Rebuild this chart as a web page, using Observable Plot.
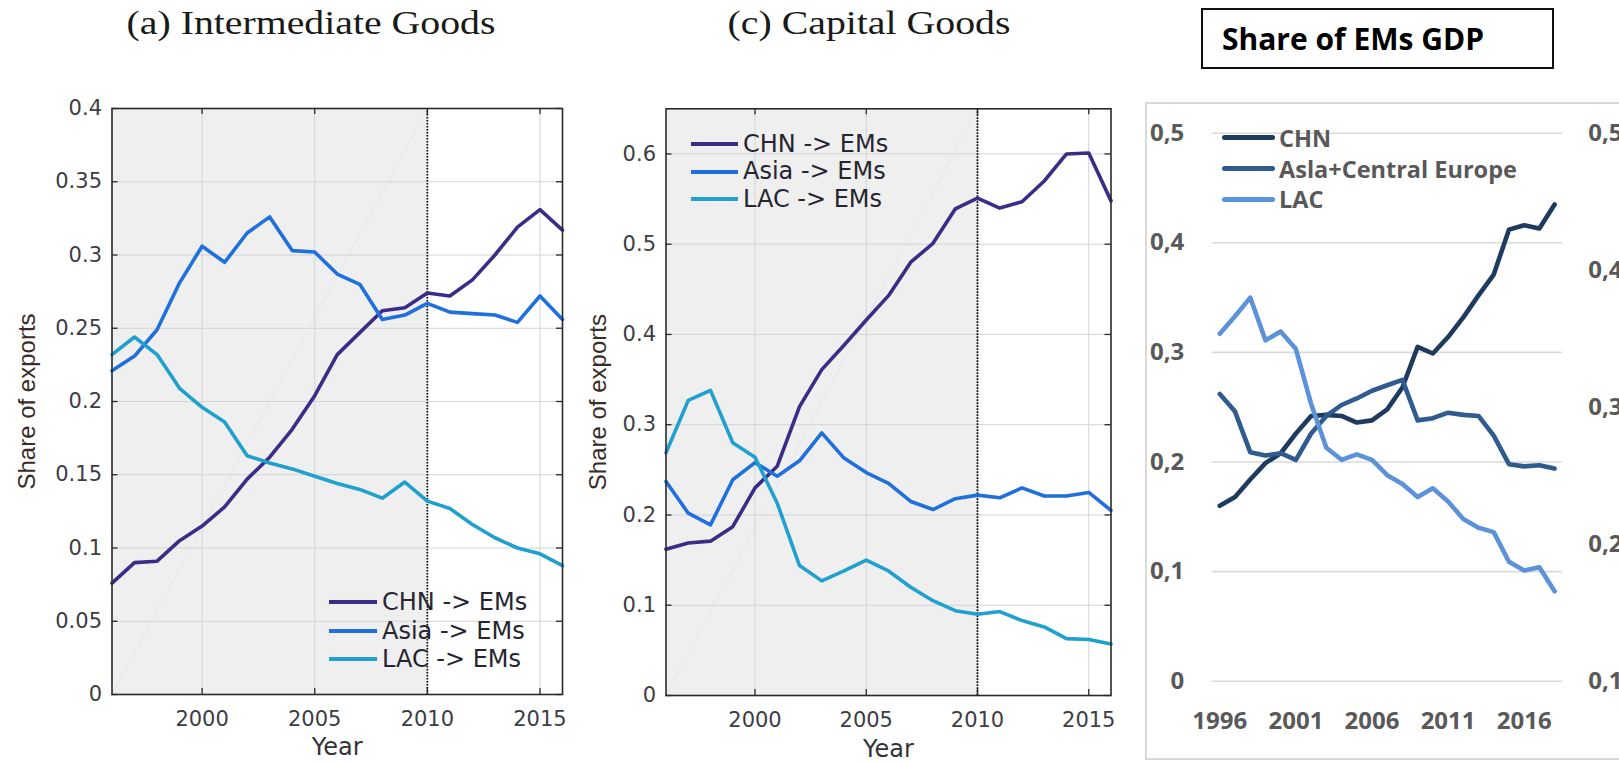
<!DOCTYPE html>
<html>
<head>
<meta charset="utf-8">
<script src="https://cdn.jsdelivr.net/npm/d3@7"></script>
<script src="https://cdn.jsdelivr.net/npm/@observablehq/plot@0.6"></script>
<style>
html, body { margin: 0; padding: 0; background: #fff; overflow: hidden; }
#root { position: relative; width: 1619px; height: 762px; overflow: hidden; background: #fff; }
.abs { position: absolute; }
.title { position: absolute; font-family: "Liberation Serif", serif; font-size: 34px; color: #1a1a1a; white-space: nowrap; }
.legrow { position: absolute; display: flex; align-items: center; white-space: nowrap; }
.legline { display: inline-block; }
</style>
</head>
<body>
<div id="root"></div>
<script>
// ---------- data ----------
const yearsMatlab = [1996,1997,1998,1999,2000,2001,2002,2003,2004,2005,2006,2007,2008,2009,2010,2011,2012,2013,2014,2015,2016];
const seriesMatlab = ["CHN -> EMs", "Asia -> EMs", "LAC -> EMs"];

// (a) Intermediate Goods
const intermChn  = [0.076,0.090,0.091,0.105,0.115,0.128,0.147,0.162,0.181,0.204,0.232,0.247,0.262,0.264,0.274,0.272,0.283,0.300,0.319,0.331,0.317];
const intermAsia = [0.221,0.231,0.249,0.281,0.306,0.295,0.315,0.326,0.303,0.302,0.287,0.280,0.256,0.259,0.267,0.261,0.260,0.259,0.254,0.272,0.256];
const intermLac  = [0.232,0.244,0.232,0.209,0.196,0.186,0.163,0.158,0.154,0.149,0.144,0.140,0.134,0.145,0.132,0.127,0.116,0.107,0.100,0.096,0.088];

// (c) Capital Goods
const capitalChn  = [0.162,0.169,0.171,0.187,0.230,0.254,0.320,0.361,0.388,0.416,0.443,0.480,0.501,0.539,0.551,0.540,0.547,0.570,0.600,0.601,0.548];
const capitalAsia = [0.237,0.202,0.189,0.239,0.258,0.243,0.260,0.291,0.263,0.247,0.235,0.215,0.206,0.218,0.222,0.219,0.230,0.221,0.221,0.225,0.205];
const capitalLac  = [0.269,0.327,0.338,0.280,0.264,0.213,0.144,0.127,0.138,0.150,0.138,0.120,0.105,0.094,0.090,0.093,0.083,0.076,0.063,0.062,0.057];

// Share of EMs GDP
const yearsGdp = [1996,1997,1998,1999,2000,2001,2002,2003,2004,2005,2006,2007,2008,2009,2010,2011,2012,2013,2014,2015,2016,2017,2018];
const seriesGdp = ["CHN", "Asla+Central Europe", "LAC"];
const gdpChn    = [0.160,0.168,0.184,0.199,0.208,0.226,0.242,0.243,0.242,0.236,0.238,0.248,0.268,0.305,0.299,0.314,0.332,0.352,0.371,0.412,0.416,0.413,0.435];
const gdpAsiaCe = [0.262,0.246,0.209,0.206,0.208,0.202,0.226,0.242,0.252,0.258,0.265,0.270,0.275,0.238,0.240,0.245,0.243,0.242,0.224,0.198,0.196,0.197,0.194];
const gdpLac    = [0.317,0.333,0.350,0.311,0.319,0.303,0.253,0.213,0.202,0.207,0.202,0.188,0.180,0.168,0.176,0.164,0.148,0.140,0.136,0.109,0.101,0.104,0.082];

// ticks
const xTicksMatlab = [2000, 2005, 2010, 2015];
const yTicksInterm = [0, 0.05, 0.1, 0.15, 0.2, 0.25, 0.3, 0.35, 0.4];
const yTicksCapital = [0, 0.1, 0.2, 0.3, 0.4, 0.5, 0.6];
const yMaxInterm = 0.4;
const yMaxCapital = 0.65;
const xTicksGdp = [1996, 2001, 2006, 2011, 2016];
const yTicksGdpLeft = [0, 0.1, 0.2, 0.3, 0.4, 0.5];
const yTicksGdpRight = [0.1, 0.2, 0.3, 0.4, 0.5];
const shadeYears = [1996, 2010];   // shaded (pre-2010) window
const breakYear = [2010];          // dotted vertical line

const titleA = "(a) Intermediate Goods";
const titleC = "(c) Capital Goods";
const titleGdp = "Share of EMs GDP";
const xLabel = "Year";
const yLabel = "Share of exports";

const matlabColors = ["#3b2d86", "#1f6fdc", "#1fa0cf"];
const gdpColors = ["#1e3a5f", "#2f5b8e", "#5b92d8"];

// ---------- helpers ----------
const root = document.getElementById("root");

function toRows(years, names, arrays) {
  const rows = [];
  arrays.forEach((vals, k) => vals.forEach((v, i) => rows.push({year: years[i], value: v, name: names[k]})));
  return rows;
}

function place(node, left, top) {
  const d = document.createElement("div");
  d.className = "abs";
  d.style.left = left + "px";
  d.style.top = top + "px";
  d.appendChild(node);
  root.appendChild(d);
  return d;
}

function matlabPanel(o) {
  const rows = toRows(yearsMatlab, seriesMatlab, o.arrays);
  const innerW = o.width - o.ml - o.mr;
  const innerH = o.height - o.mt - o.mb;
  const shade = [{from: shadeYears[0], to: shadeYears[1]}];
  const diag = [{x: shadeYears[0], y: 0}, {x: shadeYears[1], y: o.yMax}];
  const tickLen = 6;
  const fmt = d => String(d);
  return Plot.plot({
    width: o.width, height: o.height,
    marginLeft: o.ml, marginRight: o.mr, marginTop: o.mt, marginBottom: o.mb,
    x: {domain: [yearsMatlab[0], yearsMatlab[yearsMatlab.length - 1]]},
    y: {domain: [0, o.yMax]},
    color: {domain: seriesMatlab, range: matlabColors},
    style: {fontFamily: "DejaVu Sans", fontSize: "21px", color: "#3d3d45", background: "transparent", overflow: "visible"},
    marks: [
      Plot.rect(shade, {x1: "from", x2: "to", fill: "#efefef"}),
      Plot.line(diag, {x: "x", y: "y", stroke: "#e6e6e6", strokeWidth: 1}),
      Plot.gridX(xTicksMatlab, {stroke: "#d4d4d4", strokeOpacity: 1, strokeWidth: 1}),
      Plot.gridY(o.yTicks, {stroke: "#d4d4d4", strokeOpacity: 1, strokeWidth: 1}),
      Plot.ruleX(breakYear, {stroke: "#111", strokeWidth: 1.8, strokeDasharray: "1.6,1.4"}),
      Plot.line(rows, {x: "year", y: "value", z: "name", stroke: "name", strokeWidth: 3.6, strokeLinejoin: "round"}),
      Plot.ruleX(xTicksMatlab, {stroke: "#2a2a2a", strokeWidth: 1.3, insetTop: innerH - tickLen}),
      Plot.ruleX(xTicksMatlab, {stroke: "#2a2a2a", strokeWidth: 1.3, insetBottom: innerH - tickLen}),
      Plot.ruleY(o.yTicks, {stroke: "#2a2a2a", strokeWidth: 1.3, insetRight: innerW - tickLen}),
      Plot.ruleY(o.yTicks, {stroke: "#2a2a2a", strokeWidth: 1.3, insetLeft: innerW - tickLen}),
      Plot.frame({stroke: "#2a2a2a", strokeWidth: 1.6}),
      Plot.axisX(xTicksMatlab, {tickSize: 0, tickPadding: 17, tickFormat: fmt, label: null, fontSize: 21}),
      Plot.axisY(o.yTicks, {tickSize: 0, tickPadding: 10, tickFormat: fmt, label: null, fontSize: 21}),
      Plot.text([xLabel], {text: d => d, frameAnchor: "bottom", dy: o.xLabelDy, lineAnchor: "middle",
        textAnchor: "middle", fontSize: 24, fill: "#333338"}),
      Plot.text([yLabel], {text: d => d, frameAnchor: "left", dx: o.yLabelDx, rotate: -90, lineAnchor: "middle",
        textAnchor: "middle", fontSize: 24, fontFamily: "Liberation Sans", fill: "#3a2c28"})
    ]
  });
}

function gdpPanel(o) {
  const rows = toRows(yearsGdp, seriesGdp, [gdpChn, gdpAsiaCe, gdpLac]);
  const leftMax = yTicksGdpLeft[yTicksGdpLeft.length - 1];
  const rMin = yTicksGdpRight[0], rMax = yTicksGdpRight[yTicksGdpRight.length - 1];
  // right axis (0,1 .. 0,5) shares the plot height with left axis (0 .. 0,5)
  const toLeft = v => (v - rMin) / (rMax - rMin) * leftMax;
  const fromLeft = p => p / leftMax * (rMax - rMin) + rMin;
  const comma = v => (Math.abs(v) < 1e-9 ? "0" : (Math.round(v * 10) / 10).toFixed(1).replace(".", ","));
  return Plot.plot({
    width: o.width, height: o.height,
    marginLeft: o.ml, marginRight: o.mr, marginTop: o.mt, marginBottom: o.mb,
    x: {domain: [yearsGdp[0] - 0.5, yearsGdp[yearsGdp.length - 1] + 0.5]},
    y: {domain: [0, leftMax]},
    color: {domain: seriesGdp, range: gdpColors},
    style: {fontFamily: "Open Sans", fontWeight: 700, fontSize: "24px", color: "#595959", background: "transparent", overflow: "visible"},
    marks: [
      Plot.gridY(yTicksGdpLeft, {stroke: "#d9d9d9", strokeOpacity: 1, strokeWidth: 1.6}),
      Plot.line(rows, {x: "year", y: "value", z: "name", stroke: "name", strokeWidth: 4.6,
        strokeLinecap: "round", strokeLinejoin: "round"}),
      Plot.axisY(yTicksGdpLeft, {anchor: "left", tickSize: 0, tickPadding: 28, tickFormat: comma, label: null, fontSize: 24}),
      Plot.axisY(yTicksGdpRight.map(toLeft), {anchor: "right", tickSize: 0, tickPadding: 26,
        tickFormat: p => comma(fromLeft(p)), label: null, fontSize: 24}),
      Plot.axisX(xTicksGdp, {tickSize: 0, tickPadding: 31, tickFormat: d => String(d), label: null, fontSize: 24})
    ]
  });
}

function legend(items, colors, o) {
  items.forEach((name, i) => {
    const row = document.createElement("div");
    row.className = "legrow";
    row.style.left = o.left + "px";
    row.style.top = (o.centers[i] - o.rowH / 2) + "px";
    row.style.height = o.rowH + "px";
    const ln = document.createElement("span");
    ln.className = "legline";
    ln.style.width = o.lineW + "px";
    ln.style.height = o.lineH + "px";
    ln.style.background = colors[i];
    if (o.round) ln.style.borderRadius = (o.lineH / 2) + "px";
    ln.style.marginRight = o.gap + "px";
    const tx = document.createElement("span");
    tx.textContent = name;
    tx.style.fontFamily = o.font;
    tx.style.fontSize = o.size + "px";
    tx.style.fontWeight = o.weight || 400;
    tx.style.color = o.color;
    tx.style.lineHeight = o.rowH + "px";
    row.appendChild(ln);
    row.appendChild(tx);
    root.appendChild(row);
  });
}

function title(text, cx, cy, sx) {
  const t = document.createElement("div");
  t.className = "title";
  t.textContent = text;
  t.style.left = cx + "px";
  t.style.top = cy + "px";
  t.style.transform = `translate(-50%, -50%) scaleX(${sx})`;
  root.appendChild(t);
}

// ---------- panel (a) ----------
title(titleA, 311, 23, 1.17);
place(matlabPanel({
  arrays: [intermChn, intermAsia, intermLac], yMax: yMaxInterm, yTicks: yTicksInterm,
  width: 580, height: 682, ml: 111.5, mr: 18, mt: 28, mb: 68, xLabelDy: 53, yLabelDx: -85
}), 0, 80);
legend(seriesMatlab, matlabColors, {left: 329, centers: [602, 631, 659], rowH: 28, lineW: 48, lineH: 4, gap: 5,
  font: "DejaVu Sans", size: 24, color: "#262630"});

// ---------- panel (c) ----------
title(titleC, 869, 23, 1.17);
place(matlabPanel({
  arrays: [capitalChn, capitalAsia, capitalLac], yMax: yMaxCapital, yTicks: yTicksCapital,
  width: 560, height: 682, ml: 95.5, mr: 19.5, mt: 28.3, mb: 67, xLabelDy: 54, yLabelDx: -67.5
}), 570, 80);
legend(seriesMatlab, matlabColors, {left: 691, centers: [144, 171.5, 199], rowH: 27, lineW: 47, lineH: 4, gap: 5,
  font: "DejaVu Sans", size: 24, color: "#262630"});

// ---------- Share of EMs GDP ----------
const outer = document.createElement("div");
outer.className = "abs";
Object.assign(outer.style, {left: "1145px", top: "102px", width: "520px", height: "658px",
  border: "2px solid #d9d9d9", boxSizing: "border-box"});
root.appendChild(outer);

const box = document.createElement("div");
box.className = "abs";
Object.assign(box.style, {left: "1201px", top: "8px", width: "353px", height: "61px", border: "2px solid #111",
  boxSizing: "border-box", fontFamily: "Open Sans", fontWeight: "700", fontSize: "30px", color: "#000",
  lineHeight: "57px", paddingLeft: "19px", whiteSpace: "nowrap"});
box.textContent = titleGdp;
root.appendChild(box);

place(gdpPanel({width: 489, height: 672, ml: 81.7, mr: 57.3, mt: 42.7, mb: 81.3}), 1130, 90);
legend(seriesGdp, gdpColors, {left: 1222, centers: [137.5, 168.5, 199], rowH: 30, lineW: 53, lineH: 5, gap: 4,
  font: "Open Sans", size: 23.5, weight: 700, color: "#595959", round: true});
</script>
</body>
</html>
